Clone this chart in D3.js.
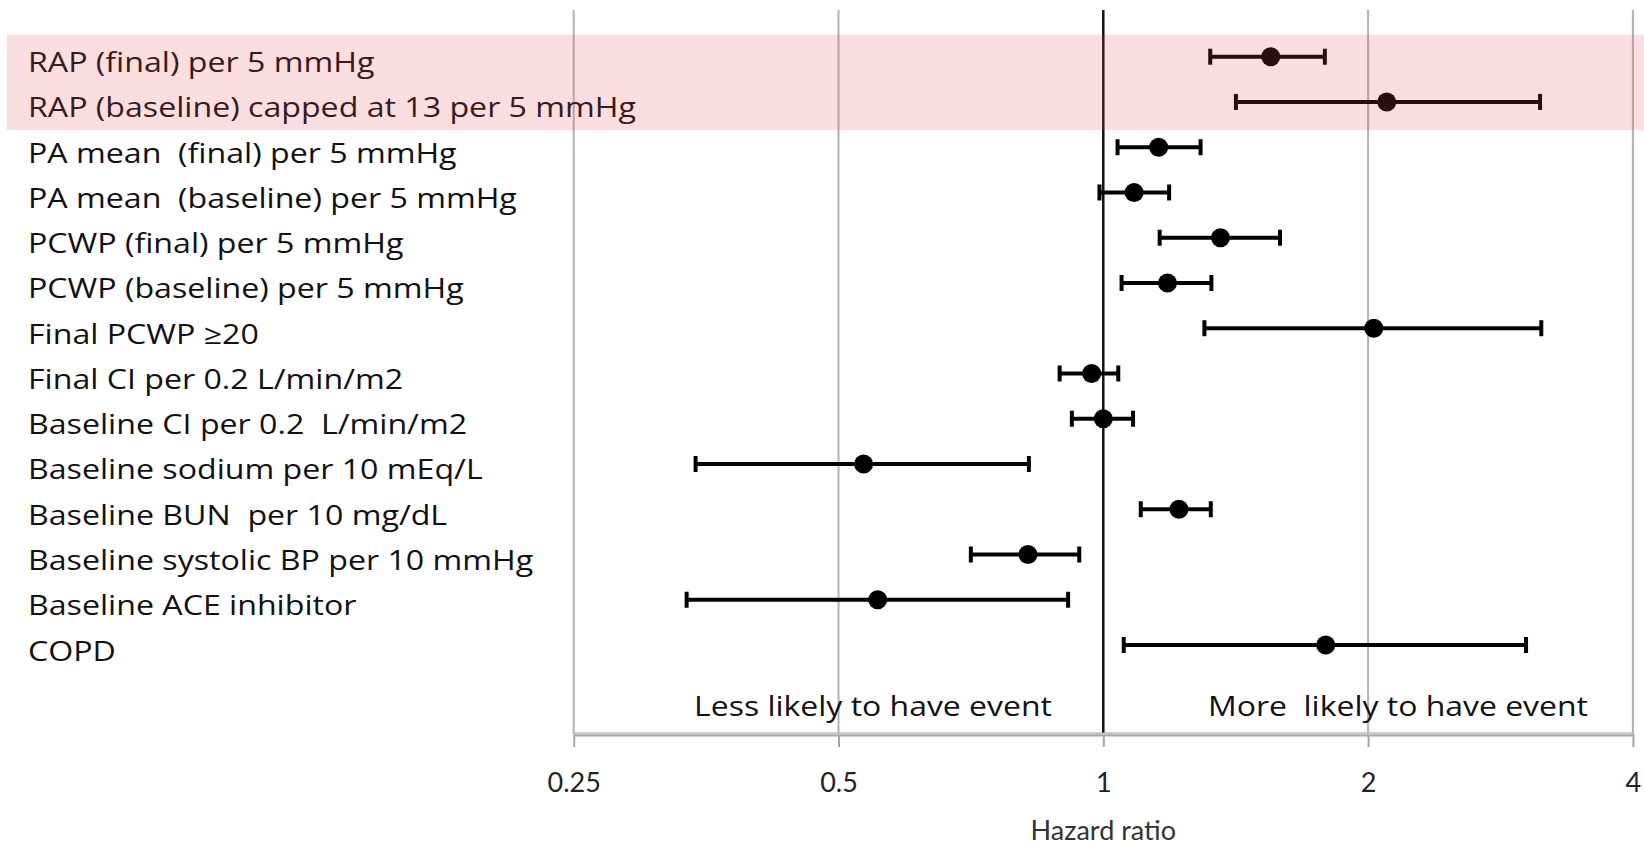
<!DOCTYPE html>
<html>
<head>
<meta charset="utf-8">
<script src="https://cdn.jsdelivr.net/npm/d3@7"></script>
<style>
  body { margin: 0; background: #fff; }
  svg { display: block; font-family: "Open Sans", Lato, sans-serif; }
  text { white-space: pre; }
</style>
</head>
<body>
<svg width="1644" height="847"></svg>
<script>
// rows, top to bottom
const labels = [
  "RAP (final) per 5 mmHg",
  "RAP (baseline) capped at 13 per 5 mmHg",
  "PA mean  (final) per 5 mmHg",
  "PA mean  (baseline) per 5 mmHg",
  "PCWP (final) per 5 mmHg",
  "PCWP (baseline) per 5 mmHg",
  "Final PCWP \u226520",
  "Final CI per 0.2 L/min/m2",
  "Baseline CI per 0.2  L/min/m2",
  "Baseline sodium per 10 mEq/L",
  "Baseline BUN  per 10 mg/dL",
  "Baseline systolic BP per 10 mmHg",
  "Baseline ACE inhibitor",
  "COPD"
];
const hr    = [1.55, 2.10, 1.156, 1.084, 1.359, 1.183, 2.03, 0.970, 1.00, 0.534, 1.219, 0.821, 0.554, 1.79];
const lower = [1.323, 1.415, 1.038, 0.990, 1.159, 1.049, 1.303, 0.892, 0.921, 0.344, 1.103, 0.707, 0.336, 1.055];
const upper = [1.786, 3.137, 1.290, 1.188, 1.588, 1.327, 3.147, 1.040, 1.081, 0.823, 1.325, 0.939, 0.912, 3.024];
const highlighted = ["RAP (final) per 5 mmHg", "RAP (baseline) capped at 13 per 5 mmHg"];

const tickVals = [0.25, 0.5, 1, 2, 4];
const sideNotes = ["Less likely to have event", "More  likely to have event"];

const svg = d3.select("svg");

const x = d3.scaleLog().base(2).domain([0.25, 4]).range([573.7, 1632.9]);
const y = d3.scalePoint().domain(labels).range([56.7, 645]);
const axisY = 734;

const rows = labels.map((name, i) => ({name: name, hr: hr[i], lo: lower[i], hi: upper[i]}));

// stretch a text selection sideways so its widest member spans `target` px
function stretch(sel, target) {
  const widths = [];
  sel.each(function() { widths.push(this.getComputedTextLength()); });
  const k = target / d3.max(widths);
  sel.each(function(d, i) {
    d3.select(this).attr("textLength", widths[i] * k).attr("lengthAdjust", "spacingAndGlyphs");
  });
}

// grid lines
svg.append("g")
  .selectAll("line")
  .data(tickVals)
  .enter()
  .append("line")
  .attr("x1", d => x(d)).attr("x2", d => x(d))
  .attr("y1", 10).attr("y2", axisY)
  .attr("stroke", d => d === 1 ? "#111" : "#b3b3b3")
  .attr("stroke-width", d => d === 1 ? 2.5 : 2);

// x axis
const axis = svg.append("g")
  .attr("transform", `translate(0,${axisY})`)
  .call(d3.axisBottom(x).tickValues(tickVals).tickFormat(d => d).tickSize(13).tickSizeOuter(0).tickPadding(26));
axis.select(".domain").attr("stroke", "#a6a6a6").attr("stroke-width", 4);
axis.selectAll(".tick line").attr("stroke", "#a6a6a6").attr("stroke-width", 2);
axis.selectAll(".tick text")
  .attr("font-family", "Lato, sans-serif")
  .attr("font-size", 27)
  .attr("fill", "#222");
svg.append("line")
  .attr("x1", x(0.25)).attr("x2", x(4))
  .attr("y1", axisY).attr("y2", axisY)
  .attr("stroke", "#e2e2e2").attr("stroke-width", 1.2);

svg.append("text")
  .attr("x", x(1)).attr("y", 829)
  .attr("text-anchor", "middle")
  .attr("dominant-baseline", "central")
  .attr("font-family", "Lato, sans-serif")
  .attr("font-size", 27)
  .attr("fill", "#333")
  .text("Hazard ratio");

// less / more likely notes
const notes = svg.append("g")
  .selectAll("text")
  .data(sideNotes)
  .enter()
  .append("text")
  .attr("x", (d, i) => i === 0 ? 873 : 1398)
  .attr("y", 705)
  .attr("text-anchor", "middle").attr("dominant-baseline", "central")
  .attr("font-size", 28).attr("fill", "#111")
  .text(d => d);
stretch(notes, 380);

// row labels
const rowText = svg.append("g")
  .selectAll("text")
  .data(rows)
  .enter()
  .append("text")
  .attr("x", 28)
  .attr("y", d => y(d.name) + 5)
  .attr("dominant-baseline", "central")
  .attr("font-size", 27)
  .attr("fill", "#111")
  .text(d => d.name);
stretch(rowText, 608);

// error bars
const bars = svg.append("g")
  .selectAll("g")
  .data(rows)
  .enter()
  .append("g");

bars.append("line")
  .attr("x1", d => x(d.lo)).attr("x2", d => x(d.hi))
  .attr("y1", d => y(d.name)).attr("y2", d => y(d.name))
  .attr("stroke", "#000").attr("stroke-width", 4);

bars.append("line")
  .attr("x1", d => x(d.lo)).attr("x2", d => x(d.lo))
  .attr("y1", d => y(d.name) - 8).attr("y2", d => y(d.name) + 8)
  .attr("stroke", "#000").attr("stroke-width", 4);

bars.append("line")
  .attr("x1", d => x(d.hi)).attr("x2", d => x(d.hi))
  .attr("y1", d => y(d.name) - 8).attr("y2", d => y(d.name) + 8)
  .attr("stroke", "#000").attr("stroke-width", 4);

bars.append("circle")
  .attr("cx", d => x(d.hr))
  .attr("cy", d => y(d.name))
  .attr("r", 9.5)
  .attr("fill", "#000");

// highlight band over the two RAP rows
svg.append("rect")
  .attr("x", 7)
  .attr("y", y(highlighted[0]) - 22)
  .attr("width", 1644 - 7)
  .attr("height", y(highlighted[1]) - y(highlighted[0]) + 50)
  .attr("fill", "rgb(235,70,85)")
  .attr("fill-opacity", 0.18);
</script>
</body>
</html>
